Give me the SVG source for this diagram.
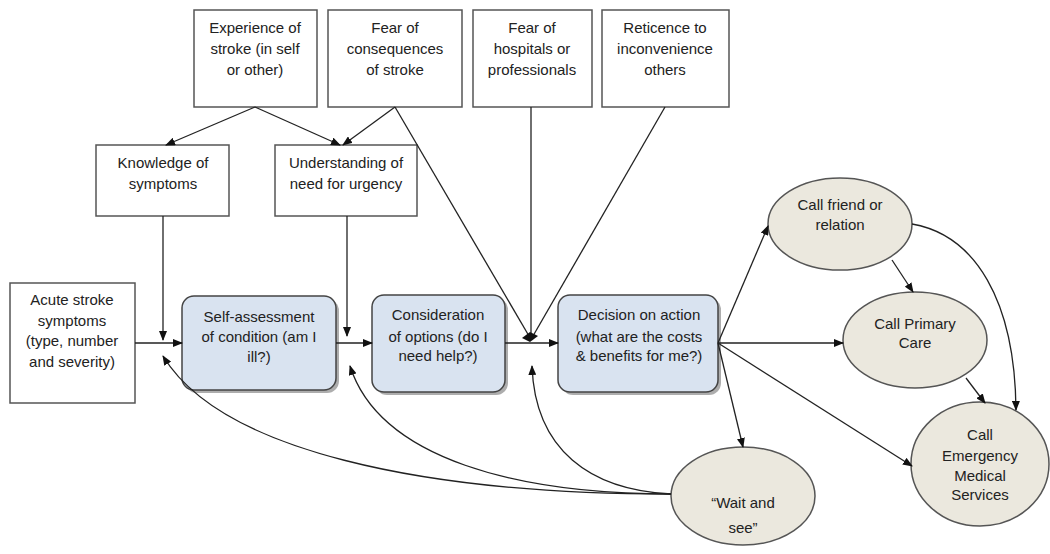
<svg xmlns="http://www.w3.org/2000/svg" width="1050" height="554" viewBox="0 0 1050 554">
<defs>
<style>
.box{fill:#fff;stroke:#555;stroke-width:1.5}
.proc{fill:#d9e3f0;stroke:#444;stroke-width:1.5}
.shadow{fill:#777;opacity:0.6}
.ell{fill:#ebe8de;stroke:#555;stroke-width:1.5}
.t{font-family:"Liberation Sans",Arial,sans-serif;font-size:15px;fill:#222;text-anchor:middle}
.c{fill:none;stroke:#222;stroke-width:1.3}
.a{marker-end:url(#arr)}
</style>
<marker id="arr" markerUnits="userSpaceOnUse" markerWidth="10" markerHeight="8" refX="9" refY="4" orient="auto">
<path d="M0,0 L10,4 L0,8 Z" fill="#111"/>
</marker>
</defs>
<rect width="1050" height="554" fill="#fff"/>

<g id="experience">
<rect class="box" x="194" y="10" width="123" height="97"/>
<text class="t" x="255" y="33">Experience of</text>
<text class="t" x="255" y="54">stroke (in self</text>
<text class="t" x="255" y="75">or other)</text>
</g>
<g id="fear-consequences">
<rect class="box" x="328" y="10" width="134" height="97"/>
<text class="t" x="395" y="33">Fear of</text>
<text class="t" x="395" y="54">consequences</text>
<text class="t" x="395" y="75">of stroke</text>
</g>
<g id="fear-hospitals">
<rect class="box" x="473" y="10" width="119" height="97"/>
<text class="t" x="532" y="33">Fear of</text>
<text class="t" x="532" y="54">hospitals or</text>
<text class="t" x="532" y="75">professionals</text>
</g>
<g id="reticence">
<rect class="box" x="602" y="10" width="127" height="97"/>
<text class="t" x="665" y="33">Reticence to</text>
<text class="t" x="665" y="54">inconvenience</text>
<text class="t" x="665" y="75">others</text>
</g>
<g id="knowledge">
<rect class="box" x="96" y="145" width="133" height="71"/>
<text class="t" x="163" y="168">Knowledge of</text>
<text class="t" x="163" y="189">symptoms</text>
</g>
<g id="understanding">
<rect class="box" x="275" y="145" width="142" height="71"/>
<text class="t" x="346" y="168">Understanding of</text>
<text class="t" x="346" y="189">need for urgency</text>
</g>
<g id="acute">
<rect class="box" x="10" y="283" width="125" height="120"/>
<text class="t" x="72" y="305">Acute stroke</text>
<text class="t" x="72" y="326">symptoms</text>
<text class="t" x="72" y="346">(type, number</text>
<text class="t" x="72" y="367">and severity)</text>
</g>
<g id="self-assessment">
<rect class="shadow" x="185" y="299" width="154" height="94" rx="12"/>
<rect class="proc" x="182" y="296" width="154" height="94" rx="12"/>
<text class="t" x="259" y="322">Self-assessment</text>
<text class="t" x="259" y="342">of condition (am I</text>
<text class="t" x="259" y="362">ill?)</text>
</g>
<g id="consideration">
<rect class="shadow" x="375" y="298" width="133" height="97" rx="12"/>
<rect class="proc" x="372" y="295" width="133" height="97" rx="12"/>
<text class="t" x="438" y="320">Consideration</text>
<text class="t" x="438" y="342">of options (do I</text>
<text class="t" x="438" y="361">need help?)</text>
</g>
<g id="decision">
<rect class="shadow" x="561" y="298" width="160" height="97" rx="12"/>
<rect class="proc" x="558" y="295" width="160" height="97" rx="12"/>
<text class="t" x="639" y="320">Decision on action</text>
<text class="t" x="639" y="342">(what are the costs</text>
<text class="t" x="639" y="361">&amp; benefits for me?)</text>
</g>
<g id="call-friend">
<ellipse class="ell" cx="840" cy="224" rx="72" ry="46"/>
<text class="t" x="840" y="210">Call friend or</text>
<text class="t" x="840" y="230">relation</text>
</g>
<g id="call-primary">
<ellipse class="ell" cx="915" cy="340" rx="72" ry="48"/>
<text class="t" x="915" y="329">Call Primary</text>
<text class="t" x="915" y="348">Care</text>
</g>
<g id="call-ems">
<ellipse class="ell" cx="980" cy="464" rx="69" ry="62"/>
<text class="t" x="980" y="440">Call</text>
<text class="t" x="980" y="461">Emergency</text>
<text class="t" x="980" y="481">Medical</text>
<text class="t" x="980" y="500">Services</text>
</g>
<g id="wait-see">
<ellipse class="ell" cx="743" cy="496" rx="72" ry="49"/>
<text class="t" x="743" y="508">“Wait and</text>
<text class="t" x="743" y="533">see”</text>
</g>

<g id="connectors">
<path class="c a" d="M255,107 L166,145"/>
<path class="c a" d="M255,107 L340,145"/>
<path class="c a" d="M395,107 L343,145"/>
<path class="c" d="M395,107 L529,336"/>
<path class="c" d="M531,107 L531,336"/>
<path class="c" d="M665,107 L533,336"/>
<polygon points="522,338 530,332 538,336 530,342" fill="#111"/>
<path class="c a" d="M163,216 L163,340"/>
<path class="c a" d="M347,216 L347,336"/>
<path class="c a" d="M135,343 L182,343"/>
<path class="c a" d="M336,343 L372,343"/>
<path class="c a" d="M505,343 L558,343"/>
<path class="c a" d="M718,343 L768,226"/>
<path class="c a" d="M718,343 L843,343"/>
<path class="c a" d="M718,343 L912,466"/>
<path class="c a" d="M718,343 L743,447"/>
<path class="c a" d="M892,260 L913,292"/>
<path class="c a" d="M966,378 L985,403"/>
<path class="c a" d="M912,224 C975,235 1015,300 1016,410"/>
<path class="c a" d="M671,494 C420,494 220,450 163,356"/>
<path class="c a" d="M671,494 C520,494 380,460 350,366"/>
<path class="c a" d="M671,494 C590,490 535,450 532,366"/>
</g>
</svg>
